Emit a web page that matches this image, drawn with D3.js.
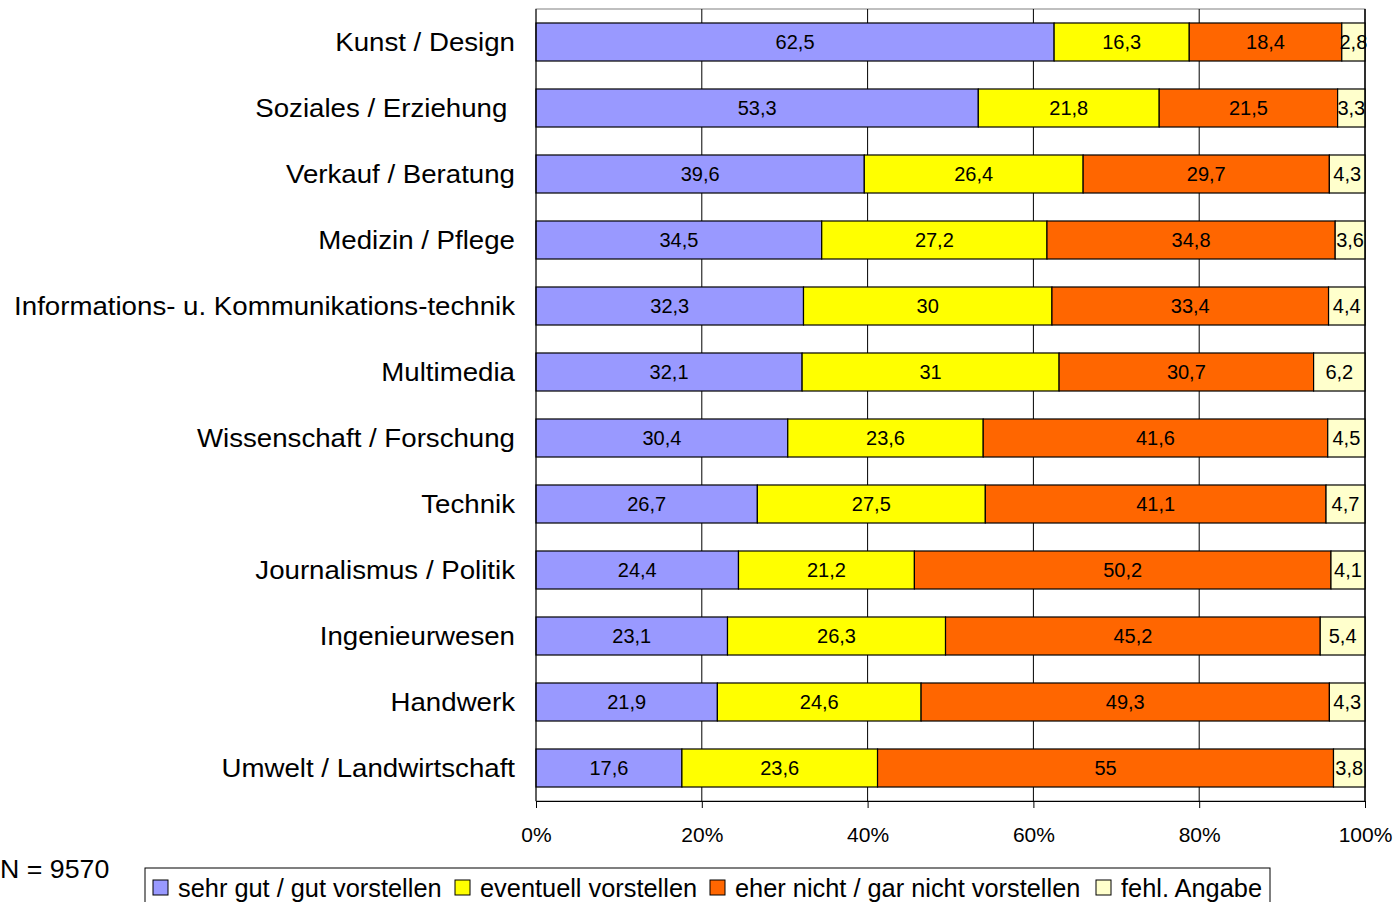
<!DOCTYPE html>
<html>
<head>
<meta charset="utf-8">
<script src="https://cdn.jsdelivr.net/npm/d3@7"></script>
<style>
  body { margin:0; background:#fff; }
  text { font-family: "Liberation Sans", Arial, sans-serif; fill:#000; }
</style>
</head>
<body>
<div id="chart"></div>
<script>
var categories = ["Kunst / Design", "Soziales / Erziehung ", "Verkauf / Beratung", "Medizin / Pflege",
  "Informations- u. Kommunikations-technik", "Multimedia", "Wissenschaft / Forschung", "Technik",
  "Journalismus / Politik", "Ingenieurwesen", "Handwerk", "Umwelt / Landwirtschaft"];
var seriesNames = ["sehr gut / gut vorstellen", "eventuell vorstellen", "eher nicht / gar nicht vorstellen", "fehl. Angabe"];
var sehrGut   = [62.5, 53.3, 39.6, 34.5, 32.3, 32.1, 30.4, 26.7, 24.4, 23.1, 21.9, 17.6];
var eventuell = [16.3, 21.8, 26.4, 27.2, 30, 31, 23.6, 27.5, 21.2, 26.3, 24.6, 23.6];
var eherNicht = [18.4, 21.5, 29.7, 34.8, 33.4, 30.7, 41.6, 41.1, 50.2, 45.2, 49.3, 55];
var fehlend   = [2.8, 3.3, 4.3, 3.6, 4.4, 6.2, 4.5, 4.7, 4.1, 5.4, 4.3, 3.8];
var tickValues = [0, 0.2, 0.4, 0.6, 0.8, 1];
var colors = ["#9999FF", "#FFFF00", "#FF6600", "#FFFFCC"];
var note = "N = 9570";

var margin = { top:9, left:536, right:35, bottom:101 };
var width = 1400 - margin.left - margin.right;
var height = 902 - margin.top - margin.bottom;

var svg = d3.select("#chart").append("svg")
    .attr("width", 1400).attr("height", 902);
var g = svg.append("g").attr("transform", "translate(" + margin.left + "," + margin.top + ")");

var x = d3.scaleLinear().domain([0, 1]).range([0, width]);
var y = d3.scaleBand().domain(categories).range([0, height]).paddingInner(0.424).paddingOuter(0.212);

// plot frame + grid
g.append("rect").attr("width", width).attr("height", height)
  .attr("fill", "none").attr("stroke", "#808080").attr("stroke-width", 1);
g.selectAll(".grid").data(tickValues.slice(1)).enter().append("line")
  .attr("x1", d => x(d)).attr("x2", d => x(d)).attr("y1", 0).attr("y2", height)
  .attr("stroke", "#000").attr("stroke-width", 1);

var rows = categories.map(function (c, i) {
  var vals = [sehrGut[i], eventuell[i], eherNicht[i], fehlend[i]];
  var total = d3.sum(vals), acc = 0;
  return vals.map(function (v, k) {
    var seg = { cat:c, v:v, k:k, x0:acc / total, x1:(acc + v) / total };
    acc += v;
    return seg;
  });
});
var segs = rows.flat();

g.selectAll(".seg").data(segs).enter().append("rect")
  .attr("x", d => x(d.x0)).attr("width", d => x(d.x1) - x(d.x0))
  .attr("y", d => y(d.cat)).attr("height", y.bandwidth())
  .attr("fill", d => colors[d.k]).attr("stroke", "#000").attr("stroke-width", 1.2);

g.selectAll(".lbl").data(segs).enter().append("text")
  .attr("x", d => (x(d.x0) + x(d.x1)) / 2)
  .attr("y", d => y(d.cat) + y.bandwidth() / 2)
  .attr("dy", "0.36em").attr("text-anchor", "middle")
  .style("font-size", "20px")
  .text(d => String(d.v).replace(".", ","));

// axes
var xAxis = d3.axisBottom(x).tickValues(tickValues).tickFormat(d3.format(".0%")).tickSize(7);
var ax = g.append("g").attr("transform", "translate(0," + height + ")").call(xAxis);
ax.select(".domain").attr("stroke", "#000");
ax.selectAll(".tick line").attr("stroke", "#000");
ax.selectAll(".tick text").attr("y", 26).style("font-size", "21px").attr("fill", "#000");

g.append("line").attr("x1", 0).attr("x2", 0).attr("y1", 0).attr("y2", height).attr("stroke", "#000");
g.append("line").attr("x1", width).attr("x2", width).attr("y1", 0).attr("y2", height).attr("stroke", "#000");

// category labels, slightly widened like the original
g.selectAll(".cat").data(categories).enter().append("text")
  .attr("transform", d => "translate(-21," + (y(d) + y.bandwidth() / 2) + ") scale(1.064,1)")
  .attr("dy", "0.36em").attr("text-anchor", "end")
  .style("font-size", "26px").style("white-space", "pre")
  .text(d => d);

// note
svg.append("text").attr("transform", "translate(0,878) scale(1.07,1)")
  .style("font-size", "25px").text(note);

// legend
var legend = svg.append("g");
legend.append("rect").attr("x", 145).attr("y", 868).attr("width", 1125).attr("height", 50)
  .attr("fill", "#fff").attr("stroke", "#000").attr("stroke-width", 1);
var legX = [153, 455, 710, 1096];
var item = legend.selectAll(".item").data(seriesNames).enter().append("g")
  .attr("transform", (d, i) => "translate(" + legX[i] + ",0)");
item.append("rect").attr("y", 880).attr("width", 15).attr("height", 15)
  .attr("fill", (d, i) => colors[i]).attr("stroke", "#000").attr("stroke-width", 1);
item.append("text").attr("transform", "translate(25,897) scale(1.015,1)")
  .style("font-size", "25px").text(d => d);
</script>
</body>
</html>
